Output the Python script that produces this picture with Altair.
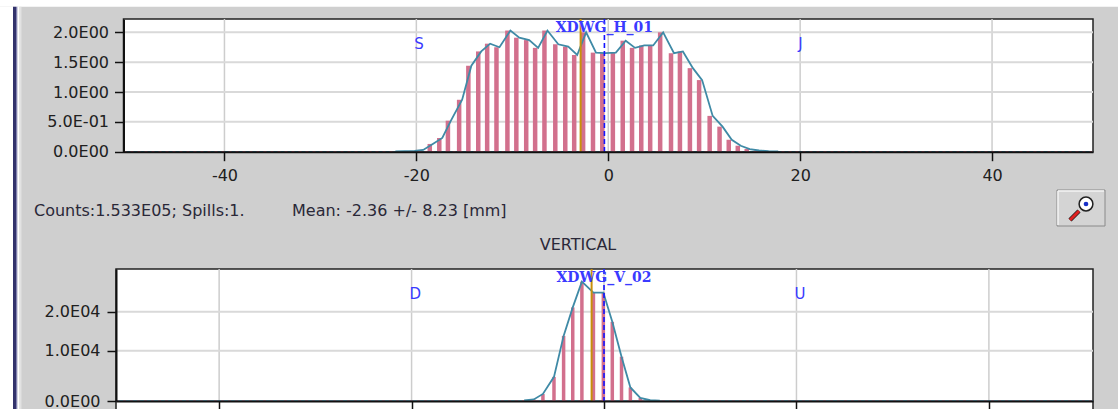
import altair as alt
import pandas as pd

# ---------------- data ----------------
# HORIZONTAL profile (wire positions [mm] and amplitudes)
h_pos = [-22.5, -21.5, -20.5, -19.6, -18.60, -17.61, -16.71, -15.54, -14.58, -13.55,
         -12.62, -11.65, -10.51, -9.58, -8.55, -7.62, -6.65, -5.52, -4.48, -3.55,
         -2.62, -1.59, -0.62, 0.48, 1.51, 2.48, 3.44, 4.37, 5.41, 6.54,
         7.47, 8.51, 9.47, 10.57, 11.60, 12.56, 13.50, 14.43, 15.40, 16.4, 17.4]
h_val = [0.005, 0.01, 0.015, 0.03, 0.13, 0.23, 0.52, 0.87, 1.44, 1.68,
         1.81, 1.75, 2.03, 1.91, 1.87, 1.74, 2.03, 1.80, 1.76, 1.62,
         2.00, 1.66, 1.65, 1.66, 1.86, 1.74, 1.78, 1.78, 2.00, 1.65,
         1.68, 1.40, 1.20, 0.60, 0.42, 0.20, 0.10, 0.045, 0.02, 0.01, 0.005]
h_mean = [-2.88]
h_center = [-0.4]
h_name = ["XDWG_H_01"]
h_side_labels = ["S", "J"]
h_side_pos = [-20, 20]

# VERTICAL profile
v_pos = [-8.3, -7.3, -6.35, -5.2, -4.2, -3.25, -2.3, -1.1, -0.07, 0.86, 1.82, 2.74, 3.77, 4.8, 5.8]
v_val = [100, 300, 1400, 4800, 13800, 21100, 27700, 24900, 24900, 17400, 8800, 2700, 600, 150, 50]
v_mean = [-1.29]
v_center = [0.0]
v_name = ["XDWG_V_02"]
v_side_labels = ["D", "U"]
v_side_pos = [-20, 20]

# axis ticks and tick labels
x_ticks = [-40, -20, 0, 20, 40]
h_y_ticks = [0, 0.5, 1.0, 1.5, 2.0]
h_y_labels = ["0.0E00", "5.0E-01", "1.0E00", "1.5E00", "2.0E00"]
v_y_ticks = [0, 10000, 20000]
v_y_labels = ["0.0E00", "1.0E04", "2.0E04"]

info_left = "Counts:1.533E05; Spills:1."
info_right = "Mean: -2.36 +/- 8.23 [mm]"
sub_title = "VERTICAL"

# ---------------- styling / layout ----------------
W, H = 1118, 409
BG = "#cfcfcf"
BAR = "#d2708d"
LINE = "#3f8aa6"
MEAN = "#c8900a"
CENTER = "#1414ff"
LABEL_BLUE = "#3a3aff"
GRID = "#cdcdcd"
FONT = "DejaVu Sans"

T = dict(x0=123.5, x1=1093, y0=19, y1=151.7)
B = dict(x0=116, x1=1093, y0=269, y1=401)

xs_t = alt.Scale(domain=[-50, 50], range=[T["x0"], T["x1"]], nice=False, zero=False)
ys_t = alt.Scale(domain=[0, 2.22], range=[T["y1"], 19.2], nice=False, zero=False)
xs_b = alt.Scale(domain=[-50.2, 50.3], range=[B["x0"], B["x1"]], nice=False, zero=False)
ys_b = alt.Scale(domain=[0, 10000, 30950], range=[B["y1"], 350.7, B["y0"]], nice=False, zero=False)


def lab_expr(vals, labs):
    parts = [f"datum.value == {v} ? '{l}'" for v, l in zip(vals, labs)]
    return " : ".join(parts) + " : ''"


common_axis = dict(title=None, grid=False, domainColor="#111111", domainWidth=2,
                   tickColor="#111111", tickWidth=1.5, tickSize=9,
                   labelFont=FONT, labelFontSize=16, labelColor="#202020",
                   labelOverlap=False, labelFlush=False, zindex=1)

ax_xt = alt.Axis(orient="bottom", offset=T["y1"] - H, values=x_ticks, labelPadding=7,
                 labelExpr="datum.value + ''", **common_axis)
ax_yt = alt.Axis(orient="left", offset=-T["x0"], values=h_y_ticks,
                 labelExpr=lab_expr(h_y_ticks, h_y_labels), labelPadding=6, **common_axis)
ax_xb = alt.Axis(orient="bottom", offset=B["y1"] - H, values=x_ticks, labels=False, **common_axis)
ax_yb = alt.Axis(orient="left", offset=-B["x0"], values=v_y_ticks,
                 labelExpr=lab_expr(v_y_ticks, v_y_labels), labelPadding=7, **common_axis)

one = pd.DataFrame({"k": [0]})


def box(x, x2, y, y2, **kw):
    return alt.Chart(one).mark_rect(**kw).encode(
        x=alt.value(x), x2=alt.value(x2), y=alt.value(y), y2=alt.value(y2))


def seg(x, x2, y, y2, **kw):
    return alt.Chart(one).mark_rule(**kw).encode(
        x=alt.value(x), x2=alt.value(x2), y=alt.value(y), y2=alt.value(y2))


def panel(pos, val, mean, center, name, side_labs, side_pos, yticks, xs, ys, ax_x, ax_y, P,
          bar_size, line_shift, name_y):
    prof = pd.DataFrame({"px": pos, "py": val})
    xgrid = pd.DataFrame({"px": x_ticks})
    ygrid = pd.DataFrame({"py": [t for t in yticks if t != 0]})
    zero = pd.DataFrame({"py": [0]})
    marks_m = pd.DataFrame({"px": mean})
    marks_c = pd.DataFrame({"px": center, "name": name})
    sides = pd.DataFrame({"px": side_pos, "name": side_labs})

    X = lambda: alt.X("px:Q", scale=xs, axis=ax_x)
    Y = lambda: alt.Y("py:Q", scale=ys, axis=ax_y)

    vgrid = alt.Chart(xgrid).mark_rule(color=GRID, strokeWidth=1.5).encode(
        x=X(), y=alt.value(P["y0"]), y2=alt.value(P["y1"]))
    hgrid = alt.Chart(ygrid).mark_rule(color="#d9d9d9", strokeWidth=2).encode(
        y=Y(), x=alt.value(P["x0"]), x2=alt.value(P["x1"]))
    base_teal = alt.Chart(zero).mark_rule(color=LINE, strokeWidth=1.6).encode(
        y=Y(), x=alt.value(P["x0"]), x2=alt.value(P["x1"]))
    base_pink = alt.Chart(zero).mark_rule(color=BAR, strokeWidth=1.2, strokeDash=[3, 4]).encode(
        y=Y(), x=alt.value(P["x0"]), x2=alt.value(P["x1"]))
    bars = alt.Chart(prof).mark_bar(color=BAR, size=bar_size, orient="vertical").encode(x=X(), y=Y())
    line = alt.Chart(prof).mark_line(color=LINE, strokeWidth=1.8, xOffset=line_shift).encode(x=X(), y=Y())
    mrule = alt.Chart(marks_m).mark_rule(color=MEAN, strokeWidth=2).encode(
        x=X(), y=alt.value(P["y0"]), y2=alt.value(P["y1"]))
    crule = alt.Chart(marks_c).mark_rule(color=CENTER, strokeWidth=1.6, strokeDash=[5, 3]).encode(
        x=X(), y=alt.value(P["y0"]), y2=alt.value(P["y1"]))
    ctext = alt.Chart(marks_c).mark_text(font="DejaVu Serif", fontWeight="bold", fontSize=14,
                                         color=LABEL_BLUE, align="center", baseline="alphabetic").encode(
        x=X(), y=alt.value(name_y), text="name:N")
    stext = alt.Chart(sides).mark_text(font=FONT, fontSize=15, color=LABEL_BLUE, align="left",
                                       baseline="alphabetic", dx=-2).encode(
        x=X(), y=alt.value(P["y0"] + 30), text="name:N")
    return alt.layer(vgrid, hgrid, base_teal, base_pink, bars, line, mrule, crule, ctext, stext)


top = panel(h_pos, h_val, h_mean, h_center, h_name, h_side_labels, h_side_pos, h_y_ticks,
            xs_t, ys_t, ax_xt, ax_yt, T, 4.5, 3, 31.5)
bot = panel(v_pos, v_val, v_mean, v_center, v_name, v_side_labels, v_side_pos, v_y_ticks,
            xs_b, ys_b, ax_xb, ax_yb, B, 3.5, 0, 282)

# window decoration (frames, borders, info text, zoom button)
deco_under = [
    box(0, W, 0, 6.7, color="white"),
    box(0, 13, 6.7, H, color="white"),
    box(13, 16, 6.7, H, color="#33336c"),
    box(16, 17.5, 6.7, H, color="#8282b0"),
    box(17.5, 19.5, 6.7, H, color="white"),
    box(19.5, 21.5, 6.7, H, color="#e2e2e2"),
    box(T["x0"], T["x1"], T["y0"], T["y1"], fill="white", stroke="#222222", strokeWidth=1.5),
    box(B["x0"], B["x1"], B["y0"], B["y1"] + 20, fill="white", stroke="#222222", strokeWidth=1.5),
]

txt_style = dict(font=FONT, fontSize=16, color="#2a2838", baseline="middle")
info1 = alt.Chart(pd.DataFrame({"t": [info_left]})).mark_text(align="left", **txt_style).encode(
    x=alt.value(34), y=alt.value(211), text="t:N")
info2 = alt.Chart(pd.DataFrame({"t": [info_right]})).mark_text(align="left", **txt_style).encode(
    x=alt.value(292), y=alt.value(211), text="t:N")
title2 = alt.Chart(pd.DataFrame({"t": [sub_title]})).mark_text(align="center", **txt_style).encode(
    x=alt.value(578), y=alt.value(245), text="t:N")

button = [
    box(1057, 1105, 190, 226, fill="#d4d4d4", stroke="#8a8a8a", strokeWidth=1),
    seg(1058, 1104, 191, 191, color="#f4f4f4", strokeWidth=1.5),
    seg(1058, 1058, 191, 225, color="#f4f4f4", strokeWidth=1.5),
    seg(1070, 1079, 220, 211, color="#202020", strokeWidth=4.5),
    seg(1070, 1079, 220, 211, color="#e02020", strokeWidth=3),
    alt.Chart(one).mark_point(shape="circle", filled=True, fill="white", stroke="#202020",
                              strokeWidth=1.5, size=190, opacity=1).encode(
        x=alt.value(1086), y=alt.value(204)),
    alt.Chart(one).mark_point(shape="circle", filled=True, color="#1830c8", size=22, opacity=1).encode(
        x=alt.value(1086), y=alt.value(204)),
]

chart = alt.layer(*deco_under, top, bot, info1, info2, title2, *button).resolve_scale(
    x="independent", y="independent"
).properties(
    width=W, height=H, padding=0, background=BG,
    autosize=alt.AutoSizeParams(type="none")
).configure_view(stroke="transparent", strokeWidth=0)

chart.save("out.html", embed_options={"renderer": "svg", "actions": False})
